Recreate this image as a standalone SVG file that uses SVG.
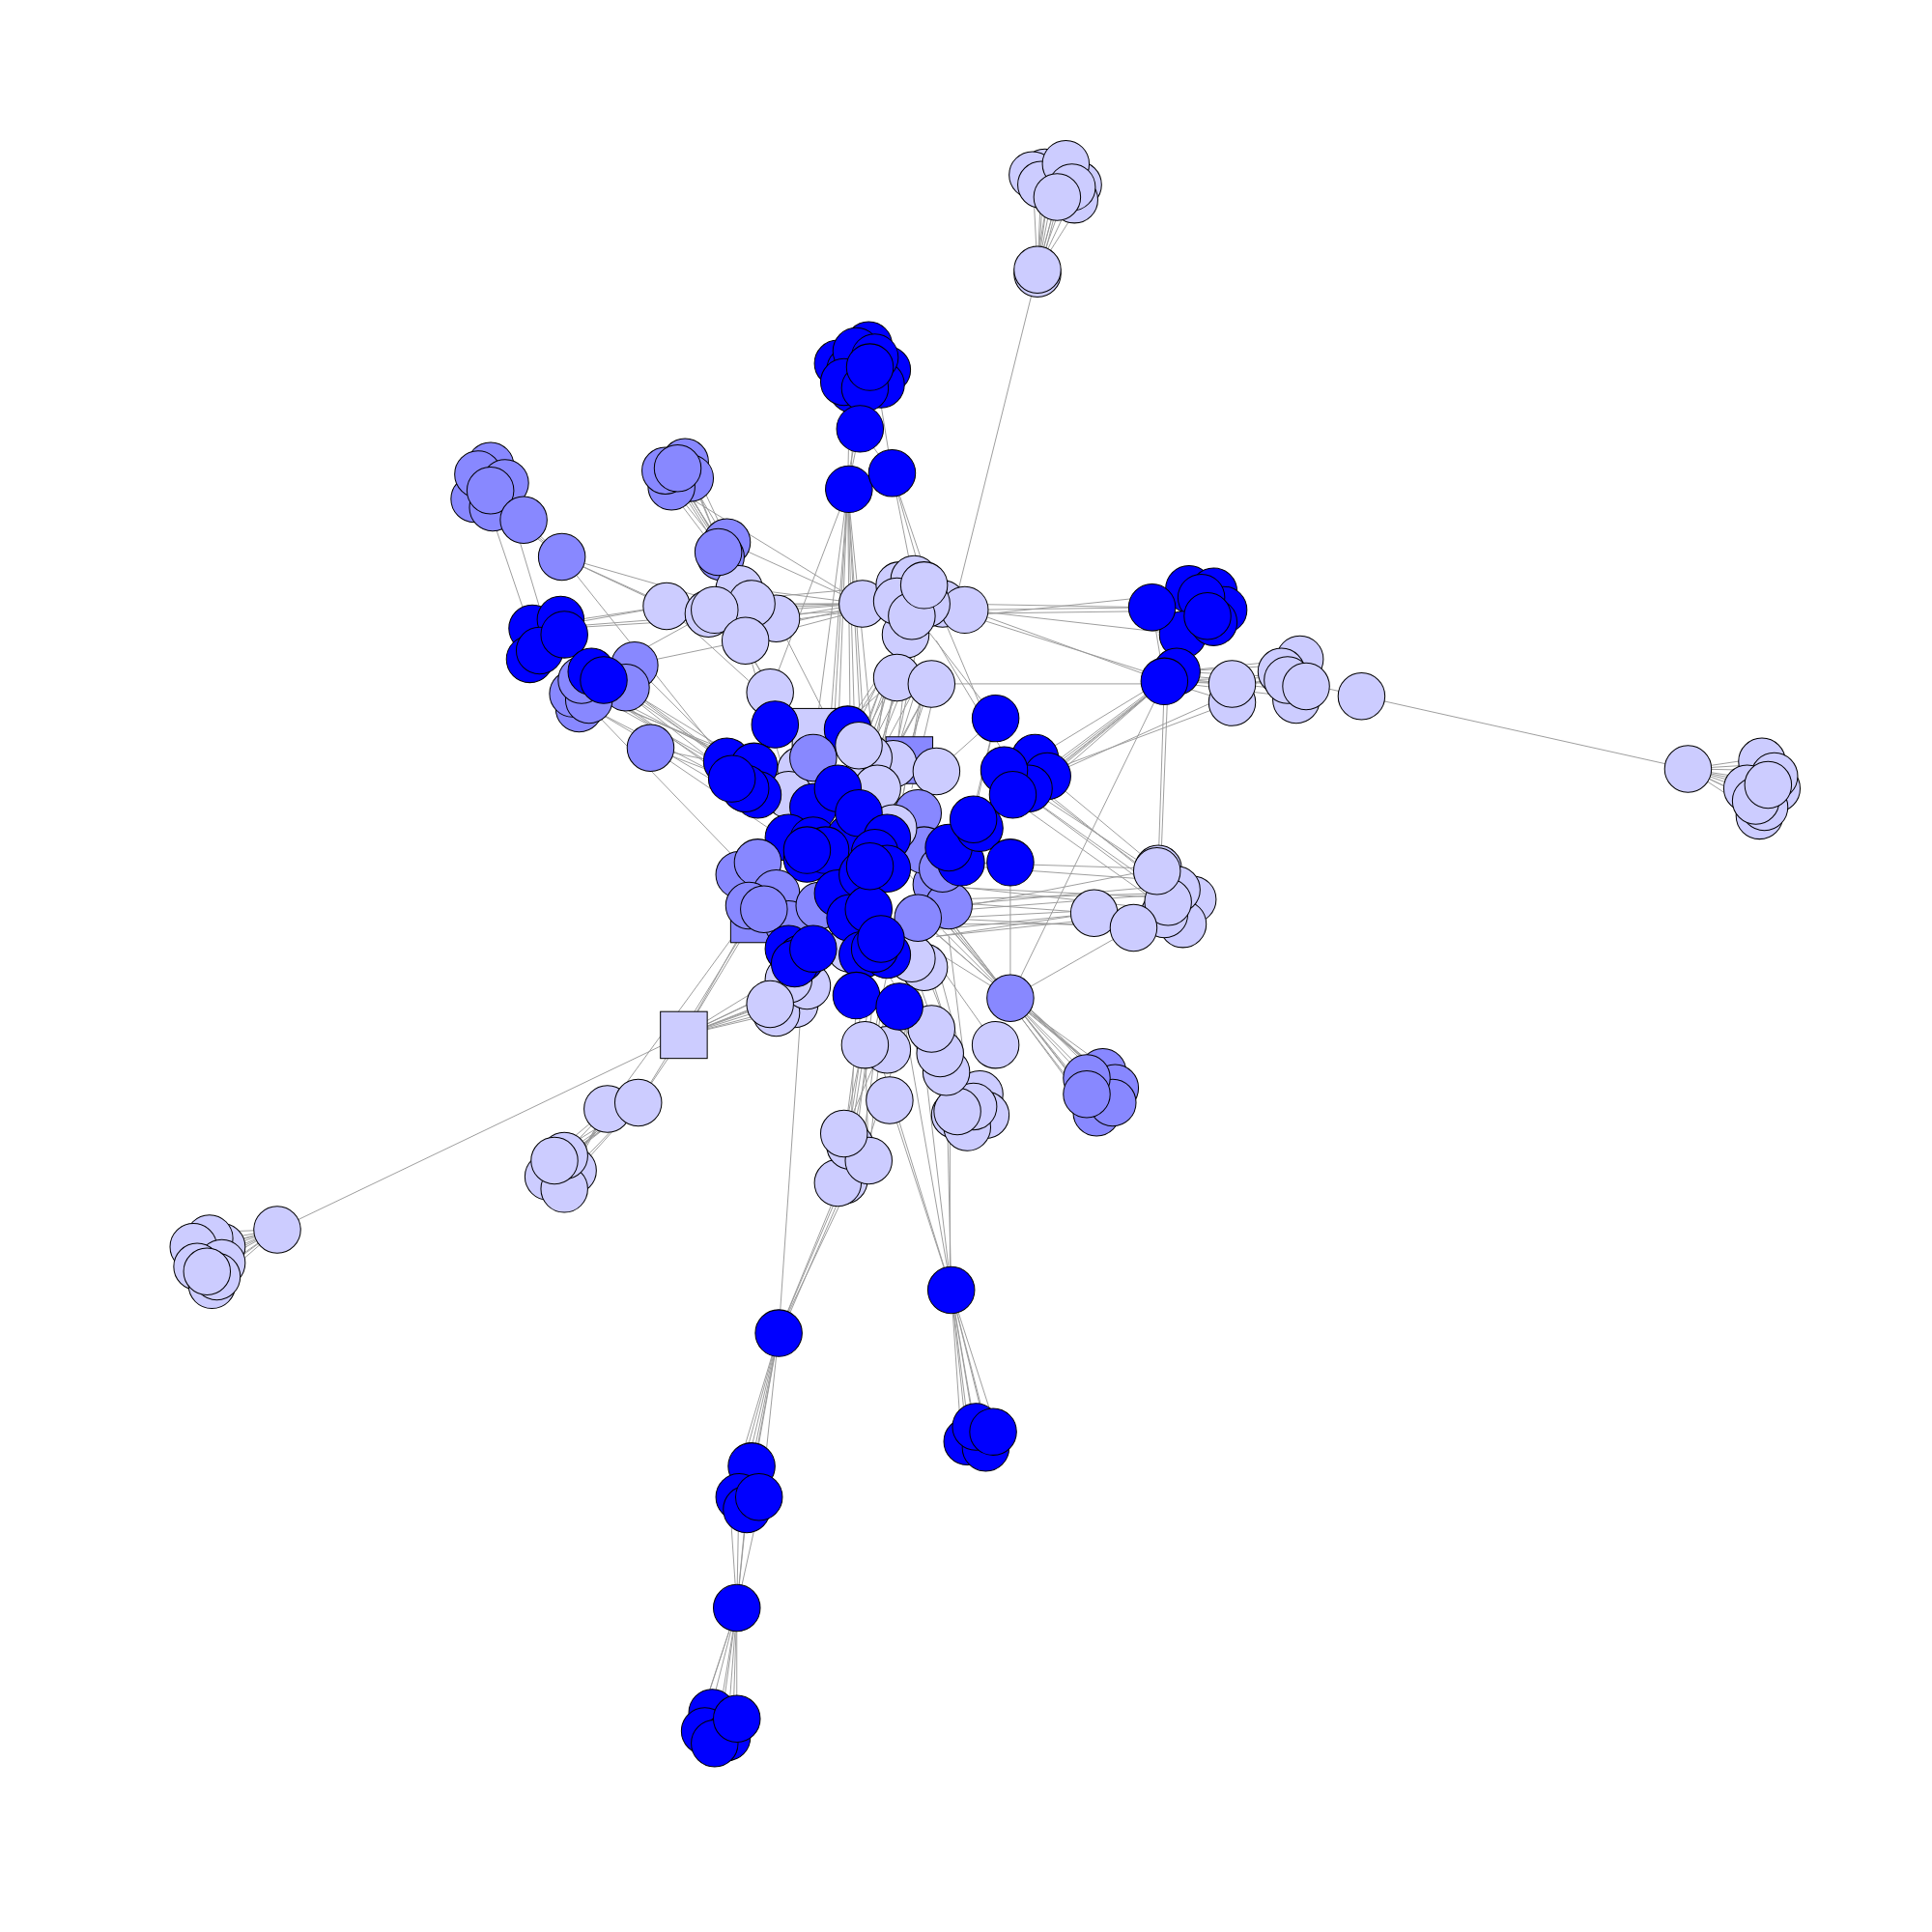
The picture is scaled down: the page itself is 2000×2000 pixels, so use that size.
<svg xmlns="http://www.w3.org/2000/svg" width="2000" height="2000" viewBox="0 0 2000 2000">
<style>
.e{fill:none;stroke:#999;stroke-width:0.75}
.n circle,.n rect{stroke:#000;stroke-width:0.8}
.a{fill:#0000ff}.b{fill:#8888ff}.c{fill:#ccccff}
</style>
<rect width="2000" height="2000" fill="#fff"/>
<g transform="scale(1.27551)">
<g id="edges" class="e">
<path d="M848 140L842 220M865 135L842 220M875 150L842 220M858 160L842 220M845 150L842 220M860 128L842 220M870 142L842 220M838 140L842 220M880 160L842 220M855 128L842 220M852 150L840 222M862 150L844 222M842 220L775 490"/>
<path d="M690 300L698 348M710 295L698 348M700 315L698 348M715 312L698 348M695 285L698 348M706 298L698 348M685 310L698 348M720 300L698 348M678 295L698 348M725 305L698 348M705 278L698 348M712 322L698 348M698 348L688 397M698 348L724 384M690 300L688 397M712 310L724 384M694 320L690 397M702 320L686 397M688 397L680 600M688 397L690 590M688 397L700 620M688 397L670 640M688 397L660 610M688 397L625 562M688 397L712 640M724 384L750 475M724 384L760 490M688 397L705 650M688 397L695 640M688 397L675 620M724 384L745 490"/>
<path d="M380 390L425 422M398 378L425 422M385 405L425 422M400 410L425 422M410 395L425 422M392 398L456 452M400 410L456 452M392 398L430 510M410 400L440 500M425 422L456 452M456 452L541 492M456 452L605 520M456 452L630 502M456 452L590 620M405 402L428 420M390 395L423 425M395 405L430 420"/>
<path d="M540 375L585 445M556 372L585 445M545 395L585 445M560 385L585 445M548 380L585 445M552 390L590 450M545 395L700 490M585 445L605 490M585 445L580 495M590 440L700 490M550 372L590 440M538 390L582 448M555 395L588 446M562 378L592 442M544 384L586 450"/>
<path d="M440 510L541 492M455 505L541 492M440 510L700 490M455 510L700 495M480 550L580 495M485 545L605 520M510 560L590 620M505 555L600 625M490 560L595 635M485 565L610 620M470 570L605 640M515 540L590 615M510 560L640 640M528 607L590 620M528 607L640 650M495 565L660 650M528 607L650 690M470 565L600 700M500 570L615 645M490 568L598 628M512 565L612 632M505 560L620 650M480 575L590 640M498 572L605 615"/>
<path d="M541 492L700 490M580 495L700 490M605 490L700 490M630 502L700 490M605 520L700 495M585 475L700 490M541 492L660 600M580 495L660 600M605 520L625 562M630 502L680 600M605 520L640 640M541 492L730 475M620 510L700 492M595 510L700 495"/>
<path d="M730 515L700 600M740 495L690 620M728 550L710 640M756 555L720 620M735 515L680 600M750 480L690 600M728 550L660 610M756 555L700 660M740 500L720 680M725 540L690 680M735 520L705 650M745 520L725 620M760 540L710 690M748 505L680 640M732 525L670 620M738 545L700 640M722 548L695 620M745 555L712 660M752 548L730 660M730 560L705 610M742 560L718 605M760 555L740 640M728 540L685 660M718 555L700 700M748 560L725 690M785 495L935 493M785 498L935 496M770 490L935 493M785 495L945 553M787 500L945 550M756 555L945 555M740 495L808 583M760 520L820 620M765 500L800 583"/>
<path d="M935 493L945 553M965 478L945 553M985 480L945 553M995 495L955 545M975 500L945 553M960 515L945 553M985 505L955 545M950 520L945 553M945 553L850 630M945 553L845 640M955 545L840 615M950 550L835 640M945 553L940 705M948 553L942 705M945 553L820 810M960 515L785 495M975 480L785 500M948 550L848 625M952 548L855 622M942 556L830 648"/>
<path d="M1000 555L945 553M1000 570L945 553M1040 540L955 545M1055 535L955 545M1060 555L945 553M1045 565L945 553M1050 550L955 545M1060 555L1105 565M1105 565L1370 624M1000 570L840 630M1040 545L850 630M1030 550L948 552M1050 560L950 550M1040 555L955 548"/>
<path d="M1370 624L1420 625M1370 624L1435 620M1370 624L1440 635M1370 624L1425 650M1370 624L1435 655M1370 624L1415 640M1370 624L1430 615M1370 624L1410 635M1370 624L1445 640M1370 624L1428 662"/>
<path d="M808 583L760 626M808 583L790 665M850 630L940 705M845 640L945 720M850 650L923 698M840 650L960 735M830 655L950 740M808 583L780 700M820 645L760 740M848 645L935 710M842 652L940 725"/>
<path d="M940 705L760 740M955 725L760 740M965 735L770 745M945 740L760 760M960 750L750 750M975 730L770 720M950 715L745 700M888 741L760 760M888 741L740 730M920 753L820 810M920 753L760 745M940 705L780 700M945 725L765 730M950 735L755 755M935 720L770 735M960 740L780 720"/>
<path d="M820 810L880 875M820 810L895 870M820 810L905 880M820 810L890 900M820 810L885 890M820 810L905 895M820 810L900 868M825 812L910 885M822 812L875 880M818 812L878 890M824 808L898 875M826 810L908 890M820 814L882 898M822 806L890 870M820 810L760 740M820 810L750 720M820 810L740 760M820 810L770 745M820 810L820 700M820 810L745 745M820 810L730 700M820 810L755 735M820 810L765 755M820 810L740 740"/>
<path d="M555 840L625 815M555 840L630 820M555 840L640 800M555 840L600 760M555 840L612 745M555 840L650 810M555 840L640 820M555 840L620 800M555 840L635 810M555 840L628 805M555 840L645 805M555 840L518 895M555 840L225 998M518 895L600 762M493 900L595 760"/>
<path d="M518 895L445 940M518 895L460 935M518 895L465 950M518 895L455 965M518 895L440 955M493 900L450 945M493 900L445 940M493 900L460 955M518 895L450 945M493 900L455 962M493 900L468 945M518 895L458 940M505 898L452 950"/>
<path d="M225 998L155 1010M225 998L170 1000M225 998L185 1020M225 998L165 1040M225 998L150 1030M225 998L175 1035M225 998L160 1020M225 998L145 1020M225 998L190 1015M225 998L165 1050M225 998L178 1010"/>
<path d="M685 920L700 850M705 940L720 800M685 958L705 830M680 965L700 810M690 930L695 808M685 920L730 817M705 940L702 848M690 930L720 790M695 925L710 800M700 930L715 820M688 925L705 815M685 958L632 1082M680 965L632 1082M690 960L632 1082M686 962L634 1082M650 820L632 1082M700 940L735 835"/>
<path d="M775 890L740 790M790 885L750 785M800 900L730 817M780 915L735 835M770 905L720 800M795 910L760 780M785 880L770 760M756 835L730 800M763 855L720 790M808 848L760 780M768 870L740 800M780 895L745 795M790 900L755 790"/>
<path d="M632 1082L600 1200M632 1082L610 1188M632 1082L592 1215M632 1082L618 1215M632 1082L605 1232M632 1082L598 1225M632 1082L608 1210M600 1200L598 1305M610 1188L598 1305M592 1215L598 1305M618 1215L598 1305M605 1232L598 1305M598 1305L575 1395M598 1305L595 1395M598 1305L580 1415M598 1305L590 1410M598 1305L565 1405M598 1305L598 1392M598 1305L585 1400M598 1305L570 1390"/>
<path d="M772 1047L722 893M772 1047L750 860M772 1047L705 830M772 1047L735 835M772 1047L768 870M771 1047L771 905M772 1047L785 1170M772 1047L800 1160M772 1047L805 1175M772 1047L795 1180M772 1047L780 1165M772 1047L790 1155M772 1047L810 1165M772 1047L788 1175"/>
</g>
<g class="n">
<g id="n1"><circle class="c" cx="848" cy="140" r="19"/></g>
<g id="n2"><circle class="c" cx="875" cy="150" r="19"/></g>
<g id="n237"><circle class="c" cx="838" cy="142" r="19"/></g>
<g id="n238"><circle class="c" cx="872" cy="162" r="19"/></g>
<g id="n3"><circle class="c" cx="845" cy="150" r="19"/></g>
<g id="n4"><circle class="c" cx="865" cy="133" r="19"/></g>
<g id="n5"><circle class="c" cx="870" cy="152" r="19"/></g>
<g id="n6"><circle class="c" cx="858" cy="160" r="19"/></g>
<g id="n7"><circle class="c" cx="842" cy="222" r="19"/></g>
<g id="n8"><circle class="c" cx="842" cy="219" r="19"/></g>
<g id="n239"><circle class="a" cx="705" cy="280" r="19"/></g>
<g id="n240"><circle class="a" cx="680" cy="295" r="19"/></g>
<g id="n9"><circle class="a" cx="690" cy="300" r="19"/></g>
<g id="n10"><circle class="a" cx="720" cy="300" r="19"/></g>
<g id="n11"><circle class="a" cx="695" cy="285" r="19"/></g>
<g id="n12"><circle class="a" cx="715" cy="312" r="19"/></g>
<g id="n241"><circle class="a" cx="692" cy="316" r="19"/></g>
<g id="n13"><circle class="a" cx="685" cy="310" r="19"/></g>
<g id="n14"><circle class="a" cx="710" cy="290" r="19"/></g>
<g id="n15"><circle class="a" cx="702" cy="315" r="19"/></g>
<g id="n16"><circle class="a" cx="706" cy="298" r="19"/></g>
<g id="n17"><circle class="a" cx="698" cy="348" r="19"/></g>
<g id="n18"><circle class="a" cx="689" cy="397" r="19"/></g>
<g id="n19"><circle class="a" cx="724" cy="384" r="19"/></g>
<g id="n20"><circle class="b" cx="398" cy="378" r="19"/></g>
<g id="n21"><circle class="b" cx="385" cy="405" r="19"/></g>
<g id="n22"><circle class="b" cx="400" cy="412" r="19"/></g>
<g id="n23"><circle class="b" cx="388" cy="385" r="19"/></g>
<g id="n24"><circle class="b" cx="410" cy="392" r="19"/></g>
<g id="n25"><circle class="b" cx="398" cy="398" r="19"/></g>
<g id="n26"><circle class="b" cx="425" cy="422" r="19"/></g>
<g id="n27"><circle class="b" cx="456" cy="452" r="19"/></g>
<g id="n28"><circle class="b" cx="556" cy="375" r="19"/></g>
<g id="n242"><circle class="b" cx="560" cy="388" r="19"/></g>
<g id="n29"><circle class="b" cx="545" cy="395" r="19"/></g>
<g id="n30"><circle class="b" cx="540" cy="382" r="19"/></g>
<g id="n31"><circle class="b" cx="550" cy="380" r="19"/></g>
<g id="n32"><circle class="b" cx="590" cy="440" r="19"/></g>
<g id="n33"><circle class="b" cx="585" cy="452" r="19"/></g>
<g id="n34"><circle class="b" cx="515" cy="540" r="19"/></g>
<g id="n35"><circle class="b" cx="508" cy="558" r="19"/></g>
<g id="n36"><circle class="b" cx="470" cy="575" r="19"/></g>
<g id="n37"><circle class="b" cx="465" cy="563" r="19"/></g>
<g id="n38"><circle class="b" cx="478" cy="568" r="19"/></g>
<g id="n39"><circle class="b" cx="472" cy="552" r="19"/></g>
<g id="n40"><circle class="b" cx="528" cy="607" r="19"/></g>
<g id="n41"><circle class="a" cx="432" cy="510" r="19"/></g>
<g id="n42"><circle class="a" cx="455" cy="503" r="19"/></g>
<g id="n43"><circle class="a" cx="430" cy="535" r="19"/></g>
<g id="n44"><circle class="a" cx="438" cy="528" r="19"/></g>
<g id="n45"><circle class="a" cx="458" cy="515" r="19"/></g>
<g id="n46"><circle class="a" cx="480" cy="545" r="19"/></g>
<g id="n47"><circle class="a" cx="490" cy="552" r="19"/></g>
<g id="n48"><circle class="c" cx="541" cy="492" r="19"/></g>
<g id="n49"><circle class="c" cx="600" cy="478" r="19"/></g>
<g id="n50"><circle class="c" cx="630" cy="502" r="19"/></g>
<g id="n51"><circle class="c" cx="575" cy="498" r="19"/></g>
<g id="n52"><circle class="c" cx="610" cy="490" r="19"/></g>
<g id="n53"><circle class="c" cx="580" cy="495" r="19"/></g>
<g id="n54"><circle class="c" cx="605" cy="520" r="19"/></g>
<g id="n55"><circle class="b" cx="583" cy="448" r="19"/></g>
<g id="n56"><circle class="c" cx="700" cy="490" r="19"/></g>
<g id="n57"><circle class="c" cx="730" cy="475" r="19"/></g>
<g id="n58"><circle class="c" cx="765" cy="490" r="19"/></g>
<g id="n59"><circle class="c" cx="783" cy="495" r="19"/></g>
<g id="n60"><circle class="c" cx="742" cy="470" r="19"/></g>
<g id="n61"><circle class="c" cx="735" cy="515" r="19"/></g>
<g id="n62"><circle class="c" cx="728" cy="488" r="19"/></g>
<g id="n63"><circle class="c" cx="752" cy="490" r="19"/></g>
<g id="n64"><circle class="c" cx="740" cy="500" r="19"/></g>
<g id="n65"><circle class="c" cx="750" cy="475" r="19"/></g>
<g id="n66"><circle class="c" cx="728" cy="550" r="19"/></g>
<g id="n67"><circle class="c" cx="756" cy="555" r="19"/></g>
<g id="n68"><circle class="c" cx="625" cy="562" r="19"/></g>
<g id="n69"><circle class="a" cx="965" cy="478" r="19"/></g>
<g id="n70"><circle class="a" cx="985" cy="480" r="19"/></g>
<g id="n71"><circle class="a" cx="993" cy="495" r="19"/></g>
<g id="n72"><circle class="a" cx="975" cy="485" r="19"/></g>
<g id="n73"><circle class="a" cx="960" cy="515" r="19"/></g>
<g id="n74"><circle class="a" cx="935" cy="493" r="19"/></g>
<g id="n75"><circle class="a" cx="985" cy="505" r="19"/></g>
<g id="n76"><circle class="a" cx="980" cy="500" r="19"/></g>
<g id="n77"><circle class="a" cx="955" cy="545" r="19"/></g>
<g id="n78"><circle class="a" cx="945" cy="553" r="19"/></g>
<g id="n79"><circle class="c" cx="1000" cy="570" r="19"/></g>
<g id="n80"><circle class="c" cx="1000" cy="555" r="19"/></g>
<g id="n81"><circle class="c" cx="1055" cy="535" r="19"/></g>
<g id="n82"><circle class="c" cx="1040" cy="545" r="19"/></g>
<g id="n83"><circle class="c" cx="1052" cy="568" r="19"/></g>
<g id="n84"><circle class="c" cx="1045" cy="552" r="19"/></g>
<g id="n85"><circle class="c" cx="1060" cy="557" r="19"/></g>
<g id="n86"><circle class="c" cx="1105" cy="565" r="19"/></g>
<g id="n87"><circle class="c" cx="1370" cy="624" r="19"/></g>
<g id="n88"><circle class="c" cx="1430" cy="618" r="19"/></g>
<g id="n243"><circle class="c" cx="1442" cy="640" r="19"/></g>
<g id="n89"><circle class="c" cx="1440" cy="630" r="19"/></g>
<g id="n90"><circle class="c" cx="1418" cy="640" r="19"/></g>
<g id="n244"><circle class="c" cx="1428" cy="662" r="19"/></g>
<g id="n91"><circle class="c" cx="1432" cy="655" r="19"/></g>
<g id="n92"><circle class="c" cx="1425" cy="650" r="19"/></g>
<g id="n93"><circle class="c" cx="1435" cy="637" r="19"/></g>
<g id="n94"><circle class="a" cx="808" cy="583" r="19"/></g>
<g id="n95"><circle class="a" cx="840" cy="615" r="19"/></g>
<g id="n96"><circle class="a" cx="850" cy="630" r="19"/></g>
<g id="n97"><circle class="a" cx="835" cy="640" r="19"/></g>
<g id="n98"><circle class="a" cx="815" cy="625" r="19"/></g>
<g id="n99"><circle class="a" cx="822" cy="645" r="19"/></g>
<g id="n100"><circle class="c" cx="940" cy="705" r="19"/></g>
<g id="n101"><circle class="c" cx="968" cy="730" r="19"/></g>
<g id="n102"><circle class="c" cx="960" cy="750" r="19"/></g>
<g id="n103"><circle class="c" cx="945" cy="742" r="19"/></g>
<g id="n104"><circle class="c" cx="955" cy="722" r="19"/></g>
<g id="n105"><circle class="c" cx="948" cy="732" r="19"/></g>
<g id="n106"><circle class="c" cx="939" cy="707" r="19"/></g>
<g id="n107"><circle class="c" cx="888" cy="741" r="19"/></g>
<g id="n108"><circle class="c" cx="920" cy="753" r="19"/></g>
<g id="n109"><circle class="b" cx="820" cy="810" r="19"/></g>
<g id="n110"><circle class="b" cx="895" cy="870" r="19"/></g>
<g id="n111"><circle class="b" cx="905" cy="883" r="19"/></g>
<g id="n112"><circle class="b" cx="890" cy="903" r="19"/></g>
<g id="n113"><circle class="b" cx="903" cy="895" r="19"/></g>
<g id="n114"><circle class="b" cx="882" cy="875" r="19"/></g>
<g id="n115"><circle class="b" cx="882" cy="888" r="19"/></g>
<g id="n116"><circle class="c" cx="445" cy="955" r="19"/></g>
<g id="n117"><circle class="c" cx="465" cy="950" r="19"/></g>
<g id="n118"><circle class="c" cx="458" cy="965" r="19"/></g>
<g id="n119"><circle class="c" cx="458" cy="938" r="19"/></g>
<g id="n120"><circle class="c" cx="450" cy="942" r="19"/></g>
<g id="n121"><circle class="c" cx="493" cy="900" r="19"/></g>
<g id="n122"><circle class="c" cx="518" cy="895" r="19"/></g>
<g id="n245"><circle class="c" cx="180" cy="1012" r="19"/></g>
<g id="n123"><circle class="c" cx="170" cy="1005" r="19"/></g>
<g id="n124"><circle class="c" cx="157" cy="1012" r="19"/></g>
<g id="n125"><circle class="c" cx="180" cy="1025" r="19"/></g>
<g id="n126"><circle class="c" cx="160" cy="1028" r="19"/></g>
<g id="n246"><circle class="c" cx="172" cy="1043" r="19"/></g>
<g id="n127"><circle class="c" cx="176" cy="1036" r="19"/></g>
<g id="n128"><circle class="c" cx="168" cy="1032" r="19"/></g>
<g id="n129"><circle class="c" cx="225" cy="998" r="19"/></g>
<g id="n130"><circle class="a" cx="632" cy="1082" r="19"/></g>
<g id="n131"><circle class="a" cx="610" cy="1190" r="19"/></g>
<g id="n132"><circle class="a" cx="600" cy="1215" r="19"/></g>
<g id="n133"><circle class="a" cx="606" cy="1225" r="19"/></g>
<g id="n134"><circle class="a" cx="616" cy="1215" r="19"/></g>
<g id="n135"><circle class="a" cx="598" cy="1305" r="19"/></g>
<g id="n136"><circle class="a" cx="578" cy="1390" r="19"/></g>
<g id="n137"><circle class="a" cx="572" cy="1405" r="19"/></g>
<g id="n138"><circle class="a" cx="590" cy="1410" r="19"/></g>
<g id="n139"><circle class="a" cx="580" cy="1415" r="19"/></g>
<g id="n140"><circle class="a" cx="598" cy="1395" r="19"/></g>
<g id="n141"><circle class="a" cx="772" cy="1047" r="19"/></g>
<g id="n142"><circle class="a" cx="785" cy="1170" r="19"/></g>
<g id="n143"><circle class="a" cx="800" cy="1175" r="19"/></g>
<g id="n144"><circle class="a" cx="792" cy="1158" r="19"/></g>
<g id="n145"><circle class="a" cx="806" cy="1162" r="19"/></g>
<g id="n146"><circle class="c" cx="685" cy="958" r="19"/></g>
<g id="n147"><circle class="c" cx="680" cy="960" r="19"/></g>
<g id="n148"><circle class="c" cx="690" cy="930" r="19"/></g>
<g id="n149"><circle class="c" cx="705" cy="942" r="19"/></g>
<g id="n150"><circle class="c" cx="685" cy="920" r="19"/></g>
<g id="n151"><circle class="c" cx="775" cy="905" r="19"/></g>
<g id="n152"><circle class="c" cx="795" cy="888" r="19"/></g>
<g id="n153"><circle class="c" cx="800" cy="905" r="19"/></g>
<g id="n154"><circle class="c" cx="785" cy="915" r="19"/></g>
<g id="n155"><circle class="c" cx="790" cy="898" r="19"/></g>
<g id="n156"><circle class="c" cx="777" cy="902" r="19"/></g>
<g id="n157"><circle class="c" cx="808" cy="848" r="19"/></g>
<g id="n158"><circle class="c" cx="768" cy="870" r="19"/></g>
<g id="n159"><circle class="c" cx="763" cy="855" r="19"/></g>
<g id="n160"><circle class="c" cx="756" cy="835" r="19"/></g>
<g id="n161"><circle class="c" cx="722" cy="893" r="19"/></g>
<g id="n162"><circle class="c" cx="720" cy="852" r="19"/></g>
<g id="n163"><circle class="c" cx="702" cy="848" r="19"/></g>
<g id="n164"><rect class="c" x="536" y="821" width="38" height="38"/></g>
<g id="n165"><circle class="c" cx="645" cy="815" r="19"/></g>
<g id="n166"><circle class="c" cx="630" cy="822" r="19"/></g>
<g id="n167"><circle class="c" cx="655" cy="800" r="19"/></g>
<g id="n168"><circle class="c" cx="640" cy="795" r="19"/></g>
<g id="n169"><circle class="c" cx="625" cy="815" r="19"/></g>
<g id="n170"><circle class="c" cx="750" cy="785" r="19"/></g>
<g id="n171"><circle class="c" cx="740" cy="778" r="19"/></g>
<g id="n172"><circle class="c" cx="690" cy="770" r="19"/></g>
<g id="n173"><rect class="c" x="643" y="575" width="38" height="38"/></g>
<g id="n174"><rect class="b" x="719" y="598" width="38" height="38"/></g>
<g id="n175"><circle class="c" cx="650" cy="625" r="19"/></g>
<g id="n176"><circle class="c" cx="640" cy="645" r="19"/></g>
<g id="n177"><circle class="c" cx="725" cy="620" r="19"/></g>
<g id="n178"><circle class="c" cx="760" cy="626" r="19"/></g>
<g id="n179"><circle class="a" cx="629" cy="588" r="19"/></g>
<g id="n180"><circle class="a" cx="688" cy="592" r="19"/></g>
<g id="n181"><circle class="b" cx="660" cy="615" r="19"/></g>
<g id="n182"><circle class="a" cx="590" cy="618" r="19"/></g>
<g id="n183"><circle class="a" cx="612" cy="622" r="19"/></g>
<g id="n184"><circle class="a" cx="615" cy="645" r="19"/></g>
<g id="n185"><circle class="a" cx="605" cy="640" r="19"/></g>
<g id="n186"><circle class="a" cx="594" cy="632" r="19"/></g>
<g id="n187"><circle class="c" cx="705" cy="615" r="19"/></g>
<g id="n188"><circle class="c" cx="712" cy="640" r="19"/></g>
<g id="n189"><rect class="b" x="593" y="727" width="38" height="38"/></g>
<g id="n190"><circle class="b" cx="745" cy="660" r="19"/></g>
<g id="n191"><circle class="b" cx="760" cy="718" r="19"/></g>
<g id="n192"><circle class="b" cx="770" cy="735" r="19"/></g>
<g id="n193"><circle class="b" cx="745" cy="745" r="19"/></g>
<g id="n194"><circle class="b" cx="750" cy="690" r="19"/></g>
<g id="n195"><circle class="b" cx="765" cy="705" r="19"/></g>
<g id="n196"><circle class="a" cx="780" cy="700" r="19"/></g>
<g id="n197"><circle class="a" cx="770" cy="688" r="19"/></g>
<g id="n198"><circle class="a" cx="795" cy="672" r="19"/></g>
<g id="n199"><circle class="a" cx="790" cy="665" r="19"/></g>
<g id="n200"><circle class="a" cx="820" cy="700" r="19"/></g>
<g id="n201"><circle class="a" cx="660" cy="655" r="19"/></g>
<g id="n202"><circle class="a" cx="680" cy="640" r="19"/></g>
<g id="n203"><circle class="a" cx="640" cy="680" r="19"/></g>
<g id="n204"><circle class="a" cx="660" cy="682" r="19"/></g>
<g id="n205"><circle class="a" cx="655" cy="697" r="19"/></g>
<g id="n206"><circle class="a" cx="690" cy="680" r="19"/></g>
<g id="n207"><circle class="a" cx="670" cy="690" r="19"/></g>
<g id="n208"><circle class="c" cx="725" cy="672" r="19"/></g>
<g id="n209"><circle class="a" cx="697" cy="660" r="19"/></g>
<g id="n210"><circle class="b" cx="600" cy="710" r="19"/></g>
<g id="n211"><circle class="b" cx="615" cy="700" r="19"/></g>
<g id="n212"><circle class="b" cx="630" cy="725" r="19"/></g>
<g id="n213"><circle class="b" cx="640" cy="750" r="19"/></g>
<g id="n214"><circle class="b" cx="608" cy="735" r="19"/></g>
<g id="n215"><circle class="b" cx="620" cy="738" r="19"/></g>
<g id="n216"><circle class="b" cx="665" cy="735" r="19"/></g>
<g id="n217"><circle class="a" cx="720" cy="680" r="19"/></g>
<g id="n218"><circle class="a" cx="710" cy="692" r="19"/></g>
<g id="n219"><circle class="a" cx="680" cy="725" r="19"/></g>
<g id="n220"><circle class="a" cx="700" cy="710" r="19"/></g>
<g id="n221"><circle class="a" cx="720" cy="705" r="19"/></g>
<g id="n222"><circle class="a" cx="690" cy="745" r="19"/></g>
<g id="n223"><circle class="a" cx="705" cy="738" r="19"/></g>
<g id="n224"><circle class="a" cx="640" cy="770" r="19"/></g>
<g id="n225"><circle class="a" cx="650" cy="778" r="19"/></g>
<g id="n226"><circle class="a" cx="645" cy="782" r="19"/></g>
<g id="n227"><circle class="a" cx="660" cy="770" r="19"/></g>
<g id="n228"><circle class="a" cx="700" cy="775" r="19"/></g>
<g id="n229"><circle class="a" cx="720" cy="775" r="19"/></g>
<g id="n230"><circle class="a" cx="710" cy="770" r="19"/></g>
<g id="n231"><circle class="a" cx="715" cy="762" r="19"/></g>
<g id="n232"><circle class="a" cx="695" cy="808" r="19"/></g>
<g id="n233"><circle class="a" cx="730" cy="817" r="19"/></g>
<g id="n234"><circle class="c" cx="697" cy="605" r="19"/></g>
<g id="n235"><circle class="a" cx="706" cy="703" r="19"/></g>
<g id="n236"><circle class="a" cx="655" cy="690" r="19"/></g>
</g>
</g>
</svg>
